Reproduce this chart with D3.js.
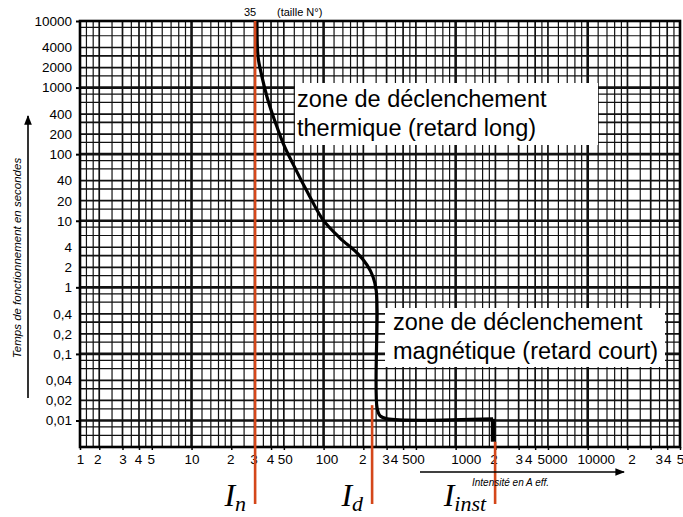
<!DOCTYPE html>
<html>
<head>
<meta charset="utf-8">
<script src="https://cdn.jsdelivr.net/npm/d3@7/dist/d3.min.js"></script>
<style>
  body { margin: 0; background: #fff; }
  svg { display: block; }
</style>
</head>
<body>
<div class="chart"></div>
<script>
// -- axis ticks (the "1" label sits on the left border of the paper) --
var xTickValues = [1.43, 2, 3, 4, 5, 10, 20, 30, 40, 50, 100, 200, 300, 400, 500,
                   1000, 2000, 3000, 4000, 5000, 10000, 20000, 30000, 40000, 50000];
var xTickLabels = ["1", "2", "3", "4", "5", "10", "2", "3", "4", "50", "100", "2", "3", "4", "500",
                   "1000", "2", "3", "4", "5000", "10000", "2", "3", "4", "5"];
var yTickValues = [10000, 4000, 2000, 1000, 400, 200, 100, 40, 20, 10, 4, 2, 1,
                   0.4, 0.2, 0.1, 0.04, 0.02, 0.01];
var yTickLabels = ["10000", "4000", "2000", "1000", "400", "200", "100", "40", "20", "10", "4", "2", "1",
                   "0,4", "0,2", "0,1", "0,04", "0,02", "0,01"];

// -- trip curve, current (A) vs time (s) --
var tripCurve = [
  {i: 31.3, t: 9660}, {i: 31.9, t: 2880}, {i: 34.2, t: 1440}, {i: 37.3, t: 723},
  {i: 40.7, t: 416},  {i: 44.4, t: 256},  {i: 49.3, t: 147},  {i: 57.7, t: 76},
  {i: 78.9, t: 22.8}, {i: 99, t: 10.3},   {i: 133, t: 5.5},   {i: 179, t: 3.3},
  {i: 213, t: 2.17},  {i: 237, t: 1.43},  {i: 250, t: 0.91},  {i: 254, t: 0.46},
  {i: 254, t: 0.0155}, {i: 268, t: 0.0117}, {i: 303, t: 0.0106}, {i: 1920, t: 0.0106}
];
var instBar = [{i: 1920, t: 0.0106}, {i: 1920, t: 0.0048}];

// -- current markers (red lines) --
var markerNames = ["n", "d", "inst"];
var markerCurrents = [30.3, 233, 1990];
var markerTops = [10000, 0.017, 0.0048];

var zoneLines = [
  ["zone de déclenchement", "thermique (retard long)"],
  ["zone de déclenchement", "magnétique (retard court)"]
];

// small horizontal nudges of the printed x labels (they are squeezed on the paper)
var xLabelShift = [0, -2, 0, -1, -1, 0, -1, -1, -1, 1, 3, -1, -1, -9, -3,
                   10, -2, 0, -7, 4, 8, 4, 8, 0, 0];

var width = 683, height = 517;
var plotL = 80, plotR = 680, plotT = 21, plotB = 447;
var font = "'Liberation Sans', Arial, Helvetica, sans-serif";
var red = "#d4471a";

var svg = d3.select("div.chart").append("svg")
    .attr("width", width)
    .attr("height", height);

var x = d3.scaleLog().domain([1.43, 50000]).range([plotL, plotR]);
var y = d3.scaleLog().domain([0.004, 10000]).range([plotB, plotT]);

// grid
var xMult = [1, 1.2, 1.4, 1.6, 1.8, 2, 2.5, 3, 3.5, 4, 4.5, 5, 6, 7, 8, 9];
var yMult = [1, 1.5, 2, 3, 4, 6, 8];
var xGrid = [], yGrid = [];
[1, 10, 100, 1000, 10000].forEach(function(d) {
  xMult.forEach(function(m) {
    var v = d * m;
    if (v > 1.5 && v < 49000) xGrid.push({v: v, m: m});
  });
});
[0.001, 0.01, 0.1, 1, 10, 100, 1000].forEach(function(d) {
  yMult.forEach(function(m) {
    var v = d * m;
    if (v > 0.0041 && v < 9999) yGrid.push({v: v, m: m});
  });
});

function gridWidth(m) {
  if (m == 1) return 2.6;
  if (m == 2 || m == 3 || m == 4 || m == 5) return 1.7;
  return 1.2;
}

var g = svg.append("g");

g.selectAll(".vgrid")
    .data(xGrid)
  .enter().append("line")
    .attr("x1", function(d) { return x(d.v); })
    .attr("x2", function(d) { return x(d.v); })
    .attr("y1", plotT)
    .attr("y2", plotB)
    .attr("stroke", "#111")
    .attr("stroke-width", function(d) { return gridWidth(d.m); });

g.selectAll(".hgrid")
    .data(yGrid)
  .enter().append("line")
    .attr("y1", function(d) { return y(d.v); })
    .attr("y2", function(d) { return y(d.v); })
    .attr("x1", plotL)
    .attr("x2", plotR)
    .attr("stroke", "#111")
    .attr("stroke-width", function(d) { return gridWidth(d.m); });

// frame
g.append("rect")
    .attr("x", plotL)
    .attr("y", plotT)
    .attr("width", plotR - plotL)
    .attr("height", plotB - plotT)
    .attr("fill", "none")
    .attr("stroke", "#000")
    .attr("stroke-width", 2.6);

// axes
var yAxis = d3.axisLeft(y)
    .tickValues(yTickValues)
    .tickFormat(function(d, i) { return yTickLabels[i]; })
    .tickSize(4)
    .tickPadding(4);
var yg = svg.append("g")
    .attr("transform", "translate(" + plotL + ",0)")
    .call(yAxis);
yg.select(".domain").remove();
yg.selectAll(".tick line")
    .attr("stroke-width", 2)
    .attr("opacity", function(d) { return [10000, 1000, 100, 10, 1, 0.1, 0.01].indexOf(d) >= 0 ? 1 : 0; });
yg.selectAll(".tick text")
    .attr("font-family", font)
    .attr("font-size", 13.5)
    .attr("fill", "#000");

var xAxis = d3.axisBottom(x)
    .tickValues(xTickValues)
    .tickFormat(function(d, i) { return xTickLabels[i]; })
    .tickSize(3)
    .tickPadding(4);
var xg = svg.append("g")
    .attr("transform", "translate(0," + plotB + ")")
    .call(xAxis);
xg.select(".domain").remove();
xg.selectAll(".tick line").attr("stroke-width", 1.5);
xg.selectAll(".tick text")
    .attr("font-family", font)
    .attr("font-size", 13.5)
    .attr("fill", "#000")
    .attr("dx", function(d, i) { return xLabelShift[i]; });

// zone labels on white boxes
var boxes = [
  {x: 295, y: 83, w: 303, h: 62, tx: 297, ty: 107},
  {x: 385, y: 308, w: 280, h: 59, tx: 393, ty: 330}
];
boxes.forEach(function(b, k) {
  svg.append("rect")
      .attr("x", b.x).attr("y", b.y)
      .attr("width", b.w).attr("height", b.h)
      .attr("fill", "#fff");
  zoneLines[k].forEach(function(line, j) {
    svg.append("text")
        .attr("x", b.tx)
        .attr("y", b.ty + j * 29)
        .attr("font-family", font)
        .attr("font-size", 23.5)
        .attr("fill", "#000")
        .text(line);
  });
});

// trip curve
var line = d3.line()
    .x(function(d) { return x(d.i); })
    .y(function(d) { return y(d.t); })
    .curve(d3.curveCatmullRom.alpha(0.5));

svg.append("path")
    .datum(tripCurve)
    .attr("fill", "none")
    .attr("stroke", "#000")
    .attr("stroke-width", 3.2)
    .attr("stroke-linejoin", "round")
    .attr("d", line);

svg.append("path")
    .datum(instBar)
    .attr("fill", "none")
    .attr("stroke", "#000")
    .attr("stroke-width", 4.5)
    .attr("d", d3.line().x(function(d) { return x(d.i); }).y(function(d) { return y(d.t); }));

// red marker lines + I labels
markerNames.forEach(function(name, k) {
  var mx = x(markerCurrents[k]);
  svg.append("line")
      .attr("x1", mx).attr("x2", mx)
      .attr("y1", y(markerTops[k]))
      .attr("y2", plotB + 57)
      .attr("stroke", red)
      .attr("stroke-width", 2.6);
  var t = svg.append("text")
      .attr("x", mx - 9)
      .attr("y", plotB + 59)
      .attr("text-anchor", "end")
      .attr("font-family", "'Liberation Serif', 'Times New Roman', serif")
      .attr("font-style", "italic")
      .attr("fill", "#000");
  t.append("tspan").attr("font-size", 32).text("I");
  t.append("tspan").attr("font-size", 22).attr("dy", 5).text(name);
});

// top label
svg.append("text")
    .attr("x", x(30.3) - 5)
    .attr("y", 16)
    .attr("text-anchor", "middle")
    .attr("font-family", font)
    .attr("font-size", 11)
    .text("35");
svg.append("text")
    .attr("x", 277)
    .attr("y", 16)
    .attr("font-family", font)
    .attr("font-size", 11)
    .text("(taille N°)");

// arrows
svg.append("defs").append("marker")
    .attr("id", "arr")
    .attr("viewBox", "0 0 10 10")
    .attr("refX", 9).attr("refY", 5)
    .attr("markerWidth", 6).attr("markerHeight", 6)
    .attr("orient", "auto")
  .append("path")
    .attr("d", "M0,1 L10,5 L0,9 z")
    .attr("fill", "#000");

svg.append("line")
    .attr("x1", 28).attr("x2", 28)
    .attr("y1", 398).attr("y2", 116)
    .attr("stroke", "#000")
    .attr("stroke-width", 1.6)
    .attr("marker-end", "url(#arr)");
svg.append("text")
    .attr("transform", "translate(21,258) rotate(-90)")
    .attr("text-anchor", "middle")
    .attr("font-family", font)
    .attr("font-style", "italic")
    .attr("font-size", 11.5)
    .text("Temps de fonctionnement en secondes");

svg.append("line")
    .attr("x1", 420).attr("x2", 624)
    .attr("y1", 472).attr("y2", 472)
    .attr("stroke", "#000")
    .attr("stroke-width", 1.6)
    .attr("marker-end", "url(#arr)");
svg.append("text")
    .attr("x", 472)
    .attr("y", 486)
    .attr("font-family", font)
    .attr("font-style", "italic")
    .attr("font-size", 10)
    .text("Intensité en A eff.");
</script>
</body>
</html>
